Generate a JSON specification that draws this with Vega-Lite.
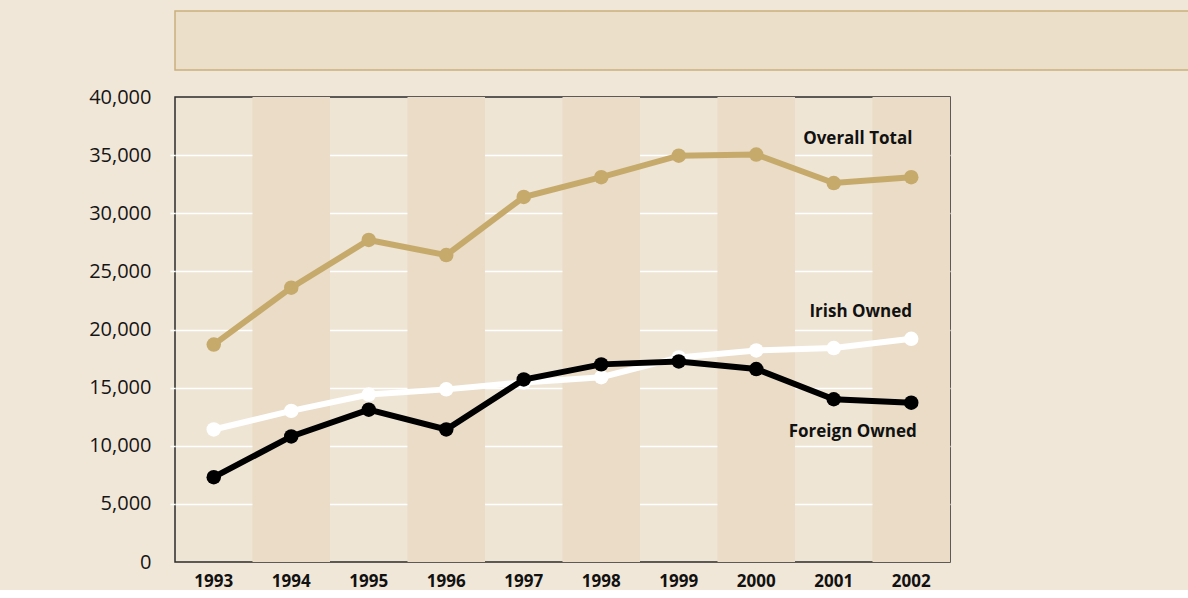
{
  "$schema": "https://vega.github.io/schema/vega-lite/v6.json",
  "background": "#f1e7d8",
  "padding": {"left": 87, "top": 10, "right": 0, "bottom": 0},
  "spacing": 15,
  "config": {"font": "Open Sans", "view": {"stroke": null}},
  "datasets": {
    "emp": [
      {"year": 1993, "series": "Overall Total", "value": 18700},
      {"year": 1994, "series": "Overall Total", "value": 23600},
      {"year": 1995, "series": "Overall Total", "value": 27700},
      {"year": 1996, "series": "Overall Total", "value": 26400},
      {"year": 1997, "series": "Overall Total", "value": 31400},
      {"year": 1998, "series": "Overall Total", "value": 33100},
      {"year": 1999, "series": "Overall Total", "value": 34950},
      {"year": 2000, "series": "Overall Total", "value": 35050},
      {"year": 2001, "series": "Overall Total", "value": 32600},
      {"year": 2002, "series": "Overall Total", "value": 33100},
      {"year": 1993, "series": "Irish Owned", "value": 11400},
      {"year": 1994, "series": "Irish Owned", "value": 13000},
      {"year": 1995, "series": "Irish Owned", "value": 14400},
      {"year": 1996, "series": "Irish Owned", "value": 14850},
      {"year": 1997, "series": "Irish Owned", "value": 15450},
      {"year": 1998, "series": "Irish Owned", "value": 15900},
      {"year": 1999, "series": "Irish Owned", "value": 17600},
      {"year": 2000, "series": "Irish Owned", "value": 18200},
      {"year": 2001, "series": "Irish Owned", "value": 18400},
      {"year": 2002, "series": "Irish Owned", "value": 19200},
      {"year": 1993, "series": "Foreign Owned", "value": 7300},
      {"year": 1994, "series": "Foreign Owned", "value": 10800},
      {"year": 1995, "series": "Foreign Owned", "value": 13100},
      {"year": 1996, "series": "Foreign Owned", "value": 11400},
      {"year": 1997, "series": "Foreign Owned", "value": 15700},
      {"year": 1998, "series": "Foreign Owned", "value": 17000},
      {"year": 1999, "series": "Foreign Owned", "value": 17250},
      {"year": 2000, "series": "Foreign Owned", "value": 16600},
      {"year": 2001, "series": "Foreign Owned", "value": 14000},
      {"year": 2002, "series": "Foreign Owned", "value": 13700}
    ]
  },
  "vconcat": [
    {
      "width": 1100,
      "height": 59,
      "view": {"fill": "#ebdfc9", "stroke": "#c9b07c", "strokeWidth": 1.5},
      "data": {"values": []},
      "mark": "rect",
      "encoding": {}
    },
    {
      "width": 775,
      "height": 465,
      "view": {"fill": "#efe5d5", "stroke": "#2b2b2b", "strokeWidth": 1.5},
      "data": {"name": "emp"},
      "encoding": {
        "x": {
          "field": "year",
          "type": "ordinal",
          "scale": {"type": "band", "paddingInner": 0, "paddingOuter": 0},
          "axis": {
            "title": null,
            "labelAngle": 0,
            "ticks": false,
            "domain": false,
            "labelFont": "Open Sans",
            "labelFontWeight": "bold",
            "labelFontSize": 17,
            "labelColor": "#111111",
            "labelPadding": 11
          }
        }
      },
      "layer": [
        {
          "transform": [{"filter": "datum.series == 'Overall Total' && datum.year % 2 == 0"}],
          "mark": {"type": "rect", "color": "#eadcc6"}
        },
        {
          "encoding": {
            "y": {
              "field": "value",
              "type": "quantitative",
              "scale": {"domain": [0, 40000], "nice": false},
              "axis": {
                "title": null,
                "values": [0, 5000, 10000, 15000, 20000, 25000, 30000, 35000, 40000],
                "format": ",d",
                "labelFont": "Open Sans",
                "labelFontSize": 20,
                "labelColor": "#151515",
                "labelPadding": 19,
                "tickSize": 5,
                "tickColor": "#ffffff",
                "tickWidth": 1.5,
                "tickOpacity": {"condition": {"test": "datum.value == 0 || datum.value == 40000", "value": 0}, "value": 1},
                "domain": false,
                "grid": true,
                "gridColor": "#ffffff",
                "gridWidth": 1.5,
                "gridOpacity": {"condition": {"test": "datum.value == 0 || datum.value == 40000", "value": 0}, "value": 1}
              }
            }
          },
          "layer": [
            {
              "transform": [{"filter": "datum.series == 'Overall Total'"}],
              "mark": {"type": "line", "color": "#c6aa6c", "strokeWidth": 6, "point": {"filled": true, "size": 210, "color": "#c6aa6c"}}
            },
            {
              "transform": [{"filter": "datum.series == 'Irish Owned'"}],
              "mark": {"type": "line", "color": "#ffffff", "strokeWidth": 6, "point": {"filled": true, "size": 210, "color": "#ffffff"}}
            },
            {
              "transform": [{"filter": "datum.series == 'Foreign Owned'"}],
              "mark": {"type": "line", "color": "#000000", "strokeWidth": 6, "point": {"filled": true, "size": 210, "color": "#000000"}}
            },
            {
              "transform": [{"filter": "datum.series == 'Overall Total' && datum.year == 2001"}],
              "mark": {"type": "text", "font": "Open Sans", "fontWeight": "bold", "fontSize": 17, "color": "#111111", "dx": 24, "dy": -44},
              "encoding": {"text": {"field": "series"}}
            },
            {
              "transform": [{"filter": "datum.series == 'Irish Owned' && datum.year == 2001"}],
              "mark": {"type": "text", "font": "Open Sans", "fontWeight": "bold", "fontSize": 17, "color": "#111111", "dx": 27, "dy": -36},
              "encoding": {"text": {"field": "series"}}
            },
            {
              "transform": [{"filter": "datum.series == 'Foreign Owned' && datum.year == 2001"}],
              "mark": {"type": "text", "font": "Open Sans", "fontWeight": "bold", "fontSize": 17, "color": "#111111", "dx": 19, "dy": 33},
              "encoding": {"text": {"field": "series"}}
            }
          ]
        }
      ]
    }
  ]
}
